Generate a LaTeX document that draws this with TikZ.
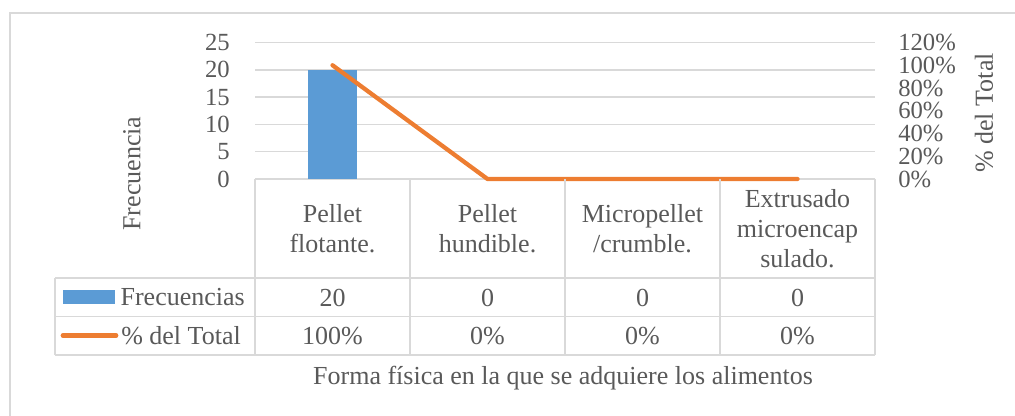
\documentclass[tikz,border=0pt]{standalone}
\usepackage{fontspec}
\setmainfont{Liberation Serif}
\usepackage{tikz}
\usetikzlibrary{positioning}
\definecolor{txtgray}{HTML}{595959}
\definecolor{gridgray}{HTML}{D9D9D9}
\definecolor{barblue}{HTML}{5B9BD5}
\definecolor{lineorange}{HTML}{ED7D31}

\begin{document}
\begin{tikzpicture}[x=0.75pt,y=-0.75pt,
    lbl/.style={text=txtgray,font=\fontsize{19.5}{22.5}\selectfont,inner sep=0pt},
    tick/.style={lbl,font=\fontsize{18.5}{20}\selectfont},
    cell/.style={lbl,align=center},
    grid/.style={draw=gridgray,line width=1.1pt},
    serie/.style={draw=lineorange,line width=3.2pt,line cap=round,line join=round}]

    \useasboundingbox (0,0) rectangle (1015,416);
    \draw[gridgray,line width=1.5pt] (10,416) -- (10,13) -- (1015,13);

    % ejes y rejilla
    \foreach \v in {0,5,...,25} {
        \draw[grid] (255,{179-5.46*\v}) -- (875,{179-5.46*\v});
        \node[tick,anchor=east] (f\v) at (230,{179-5.46*\v}) {\v};
    }
    \foreach \p in {0,20,...,120}
        \node[tick,anchor=west] (t\p) at (898,{179-1.1375*\p}) {\p\%};

    \node[lbl,rotate=90] (ytit) at (132,173.5) {Frecuencia};
    \node[lbl,rotate=90] (y2tit) at (984,113) {\% del Total};

    % serie de barras
    \fill[barblue] (308,179) rectangle (357,{179-5.46*20});

    % serie de linea
    \coordinate (p1) at (332.5,{179-1.1375*100});
    \coordinate (p2) at (487.5,179);
    \coordinate (p3) at (642.5,179);
    \coordinate (p4) at (797.5,179);
    \draw[serie] (p1) -- (p2) -- (p3) -- (p4);

    % tabla de datos
    \foreach \x in {255,410,565,720,875}
        \draw[grid] (\x,179) -- (\x,355);
    \foreach \y in {278,316.7,355}
        \draw[grid] (55,\y) -- (875,\y);
    \draw[grid] (55,278) -- (55,355);

    \node[cell] (cat1) at (332.5,228.5) {Pellet\\flotante.};
    \node[cell] (cat2) at (487.5,228.5) {Pellet\\hundible.};
    \node[cell] (cat3) at (642.5,228.5) {Micropellet\\/crumble.};
    \node[cell] (cat4) at (797.5,228.5) {Extrusado\\microencap\\sulado.};

    \foreach \x/\n/\a/\b in {332.5/1/20/100\%,487.5/2/0/0\%,642.5/3/0/0\%,797.5/4/0/0\%} {
        \node[lbl] (frq\n) at (\x,297.5) {\a};
        \node[lbl] (pct\n) at (\x,336) {\b};
    }

    % leyenda
    \node[fill=barblue,minimum width=39pt,minimum height=10.5pt,inner sep=0pt] (kfrq) at (89,297) {};
    \node[lbl,right=3.8pt of kfrq] (lfrq) {Frecuencias};
    \coordinate (ka) at (63,335.5);
    \coordinate (kb) at (116,335.5);
    \draw[serie,line width=3.6pt] (ka) -- (kb);
    \node[lbl,anchor=west] (lpct) at (121,336) {\% del Total};

    \node[lbl,anchor=base] (xtit) at (563,385) {Forma física en la que se adquiere los alimentos};
\end{tikzpicture}
\end{document}
